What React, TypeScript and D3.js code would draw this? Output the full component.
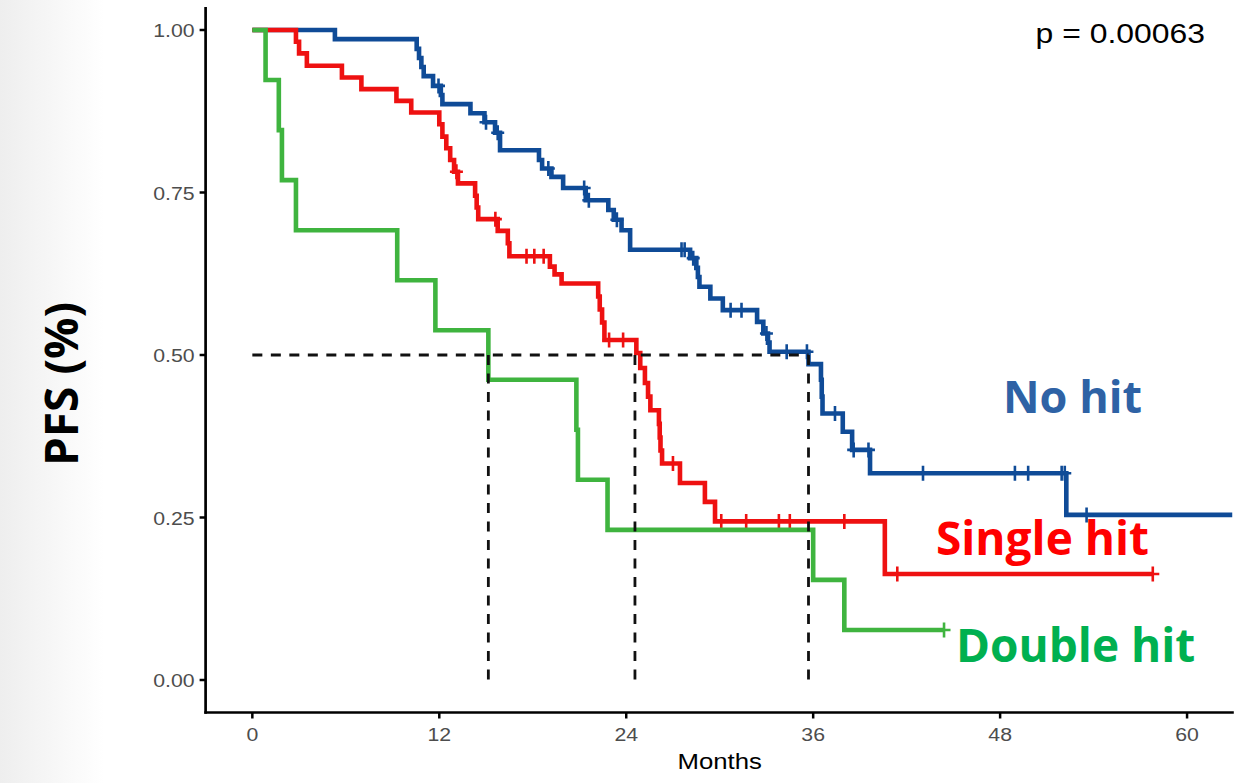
import React from 'react'
import * as d3 from 'd3'

const W = 1246
const H = 783

// No hit (blue)
const noHitTimes = [5.3, 10.55, 10.7, 10.85, 11.0, 11.6, 12.1, 12.2, 14.0, 14.9, 15.58, 15.9, 18.4, 18.6, 19.2, 19.95, 21.4, 22.85, 23.2, 23.7, 24.25, 28.1, 28.5, 28.6, 28.7, 29.4, 30.2, 32.4, 32.8, 33.1, 33.2, 35.7, 36.5, 36.55, 36.6, 37.9, 38.5, 39.65, 52.25]
const noHitSurv = [0.986, 0.971, 0.957, 0.943, 0.929, 0.914, 0.9, 0.886, 0.872, 0.858, 0.842, 0.815, 0.8, 0.787, 0.774, 0.757, 0.738, 0.723, 0.708, 0.692, 0.662, 0.649, 0.634, 0.62, 0.605, 0.587, 0.569, 0.551, 0.533, 0.519, 0.505, 0.486, 0.462, 0.436, 0.41, 0.382, 0.354, 0.318, 0.254]
const noHitCensor = [11.95, 15.0, 15.75, 19.0, 21.3, 21.6, 23.4, 27.55, 27.75, 28.3, 30.7, 31.4, 33.0, 34.3, 35.6, 37.4, 38.6, 39.55, 43.05, 48.95, 49.8, 51.95, 52.15, 53.55]
const noHitEnd = 62.9

// Single hit (red)
const singleTimes = [2.8, 3.0, 3.5, 5.75, 7.0, 9.25, 10.2, 12.0, 12.2, 12.45, 12.7, 12.95, 13.2, 14.3, 14.4, 14.5, 15.75, 16.4, 16.5, 19.1, 19.4, 19.85, 22.2, 22.3, 22.45, 22.6, 24.65, 24.9, 25.2, 25.4, 25.55, 26.1, 26.15, 26.2, 26.3, 27.45, 29.05, 29.7, 40.6]
const singleSurv = [0.982, 0.964, 0.945, 0.927, 0.909, 0.891, 0.873, 0.855, 0.836, 0.818, 0.8, 0.782, 0.764, 0.745, 0.727, 0.709, 0.691, 0.672, 0.652, 0.636, 0.624, 0.61, 0.59, 0.57, 0.55, 0.523, 0.503, 0.48, 0.457, 0.436, 0.415, 0.394, 0.373, 0.353, 0.333, 0.303, 0.274, 0.244, 0.163]
const singleCensor = [13.1, 15.6, 17.6, 18.1, 18.7, 22.9, 23.8, 27.0, 30.1, 31.7, 33.8, 34.5, 38.0, 41.4, 57.8]
const singleEnd = 57.8

// Double hit (green)
const doubleTimes = [0.85, 1.7, 1.9, 2.8, 9.3, 11.75, 15.15, 20.8, 20.9, 22.8, 36.0, 38.0]
const doubleSurv = [0.923, 0.846, 0.769, 0.692, 0.615, 0.538, 0.462, 0.385, 0.308, 0.231, 0.154, 0.077]
const doubleCensor = [44.4]
const doubleEnd = 44.4

const medians = [15.15, 24.56, 35.7]
const xTicks = [0, 12, 24, 36, 48, 60]
const yTicks = [0, 0.25, 0.5, 0.75, 1]
const pLabel = 'p = 0.00063'

const x = d3.scaleLinear().domain([-3, 63]).range([205.6, 1233.8])
const y = d3.scaleLinear().domain([-0.05, 1.05]).range([712.5, -2.5])

const stepLine = d3.line<[number, number]>()
  .x(d => x(d[0]))
  .y(d => y(d[1]))
  .curve(d3.curveStepAfter)

function stepPoints(times: number[], surv: number[], end: number): [number, number][] {
  const pts: [number, number][] = [[0, 1]]
  times.forEach((t, i) => pts.push([t, surv[i]]))
  pts.push([end, surv[surv.length - 1]])
  return pts
}

function survAt(times: number[], surv: number[], t: number) {
  let s = 1
  times.forEach((tt, i) => { if (tt <= t) s = surv[i] })
  return s
}

const groups = [
  { key: 'no', times: noHitTimes, surv: noHitSurv, censor: noHitCensor, end: noHitEnd, color: '#0f4b97' },
  { key: 'single', times: singleTimes, surv: singleSurv, censor: singleCensor, end: singleEnd, color: '#ee1111' },
  { key: 'double', times: doubleTimes, surv: doubleSurv, censor: doubleCensor, end: doubleEnd, color: '#3fb43f' },
]

const chartFont = '"Liberation Sans", Arial, sans-serif'
const labelFont = '"Open Sans", sans-serif'

export default function App() {
  const sx = 1.12
  return (
    <svg width={W} height={H} style={{ position: 'absolute', left: 0, top: 0, background: '#fff' }}>
      <defs>
        <linearGradient id="edge" x1="0" x2="1" y1="0" y2="0">
          <stop offset="0" stopColor="#eeeeee" />
          <stop offset="1" stopColor="#ffffff" />
        </linearGradient>
        <clipPath id="panel">
          <rect x={x(-3)} y={0} width={x(63) - x(-3)} height={y(-0.05)} />
        </clipPath>
      </defs>
      <rect x={0} y={0} width={W} height={H} fill="#fff" />
      <rect x={0} y={0} width={104} height={H} fill="url(#edge)" />

      {/* curves */}
      <g clipPath="url(#panel)">
        {groups.map(g => (
          <g key={g.key}>
            <path d={stepLine(stepPoints(g.times, g.surv, g.end)) || ''} fill="none" stroke={g.color} strokeWidth={4.6} />
            {g.censor.map((c, i) => {
              const cx = x(c)
              const cy = y(survAt(g.times, g.surv, c))
              return (
                <path key={i} d={`M${cx - 6.5},${cy}H${cx + 6.5}M${cx},${cy - 7.5}V${cy + 7.5}`} stroke={g.color} strokeWidth={2.6} fill="none" />
              )
            })}
          </g>
        ))}
      </g>

      {/* median lines */}
      <g stroke="#111" strokeWidth={2.8} strokeDasharray="10,8.5" fill="none">
        <line x1={x(0)} x2={x(d3.max(medians)!)} y1={y(0.5)} y2={y(0.5)} />
        {medians.map((m, i) => (
          <line key={i} x1={x(m)} x2={x(m)} y1={y(0.5)} y2={y(0)} />
        ))}
      </g>

      {/* axes */}
      <line x1={x(-3)} x2={x(-3)} y1={7} y2={y(-0.05) + 1.3} stroke="#000" strokeWidth={2.7} />
      <line x1={x(-3) - 1.3} x2={x(63)} y1={y(-0.05)} y2={y(-0.05)} stroke="#000" strokeWidth={2.7} />
      {yTicks.map(t => (
        <g key={t}>
          <line x1={x(-3) - 6} x2={x(-3)} y1={y(t)} y2={y(t)} stroke="#000" strokeWidth={2.5} />
          <g transform={`translate(${x(-3) - 11},${y(t) + 7}) scale(${sx},1)`}>
            <text textAnchor="end" fontFamily={chartFont} fontSize={19} fill="#4d4d4d">{t.toFixed(2)}</text>
          </g>
        </g>
      ))}
      {xTicks.map(t => (
        <g key={t}>
          <line x1={x(t)} x2={x(t)} y1={y(-0.05)} y2={y(-0.05) + 6} stroke="#000" strokeWidth={2.5} />
          <g transform={`translate(${x(t)},741) scale(${sx},1)`}>
            <text textAnchor="middle" fontFamily={chartFont} fontSize={19} fill="#4d4d4d">{t}</text>
          </g>
        </g>
      ))}
      <g transform={`translate(${(x(-3) + x(63)) / 2},769) scale(${sx},1)`}>
        <text textAnchor="middle" fontFamily={chartFont} fontSize={23} fill="#000">Months</text>
      </g>
      <g transform={`translate(1205,43) scale(${sx},1)`}>
        <text textAnchor="end" fontFamily={chartFont} fontSize={28.5} fill="#000">{pLabel}</text>
      </g>

      {/* overlay labels */}
      <text transform="translate(78,384) rotate(-90)" textAnchor="middle" fontFamily={labelFont} fontWeight="bold" fontSize={46} fill="#000">PFS (%)</text>
      <text x={1003} y={413} fontFamily={labelFont} fontWeight="bold" fontSize={45} fill="#2e62a5">No hit</text>
      <text x={936} y={555} fontFamily={labelFont} fontWeight="bold" fontSize={46} fill="#ff0000">Single hit</text>
      <text x={956} y={662} fontFamily={labelFont} fontWeight="bold" fontSize={46} fill="#00b050">Double hit</text>
    </svg>
  )
}
